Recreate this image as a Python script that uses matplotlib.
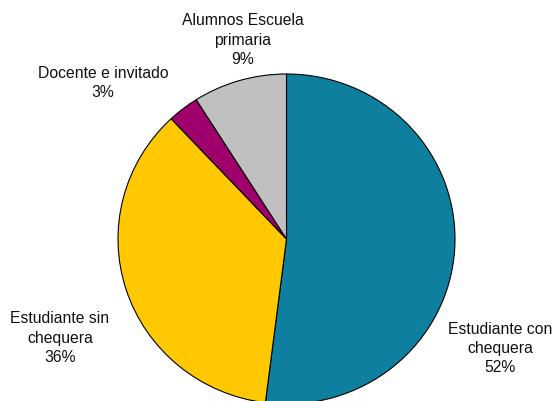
import matplotlib
matplotlib.use("Agg")
import matplotlib.pyplot as plt

# Share of each group (percent), listed clockwise from 12 o'clock
categories = ["Estudiante con\nchequera", "Estudiante sin\nchequera",
              "Docente e invitado", "Alumnos Escuela\nprimaria"]
shares = [52, 36, 3, 9]
colors = ["#0F7FA0", "#FFC800", "#A0006B", "#C0C0C0"]

# label anchor points (data units of the pie axes)
label_xy = [(1.267, -0.665), (-1.344, -0.60), (-1.089, 0.945), (-0.26, 1.206)]

plt.rcParams["font.family"] = ["Liberation Sans", "DejaVu Sans"]

fig = plt.figure(figsize=(5.56, 4.01), dpi=100)
fig.patch.set_facecolor("white")

W, H = 556, 401
cx, cy, rx, ry = 286.5, 239.0, 168.5, 165.0
ax = fig.add_axes([(cx - rx) / W, (H - cy - ry) / H, 2 * rx / W, 2 * ry / H])
ax.axis("off")

wedges, _ = ax.pie(shares, colors=colors, startangle=90, counterclock=False,
                   radius=1.0,
                   wedgeprops=dict(edgecolor="black", linewidth=0.8))
for w in wedges:
    w.set_clip_on(False)

ax.set_aspect("auto")
ax.set_xlim(-1, 1)
ax.set_ylim(-1, 1)

for cat, val, (x, y) in zip(categories, shares, label_xy):
    ax.text(x, y, f"{cat}\n{val}%", ha="center", va="center",
            multialignment="center", fontsize=11.3, color="#111111",
            linespacing=1.35, clip_on=False)

fig.savefig("out.png", dpi=100, facecolor="white")
